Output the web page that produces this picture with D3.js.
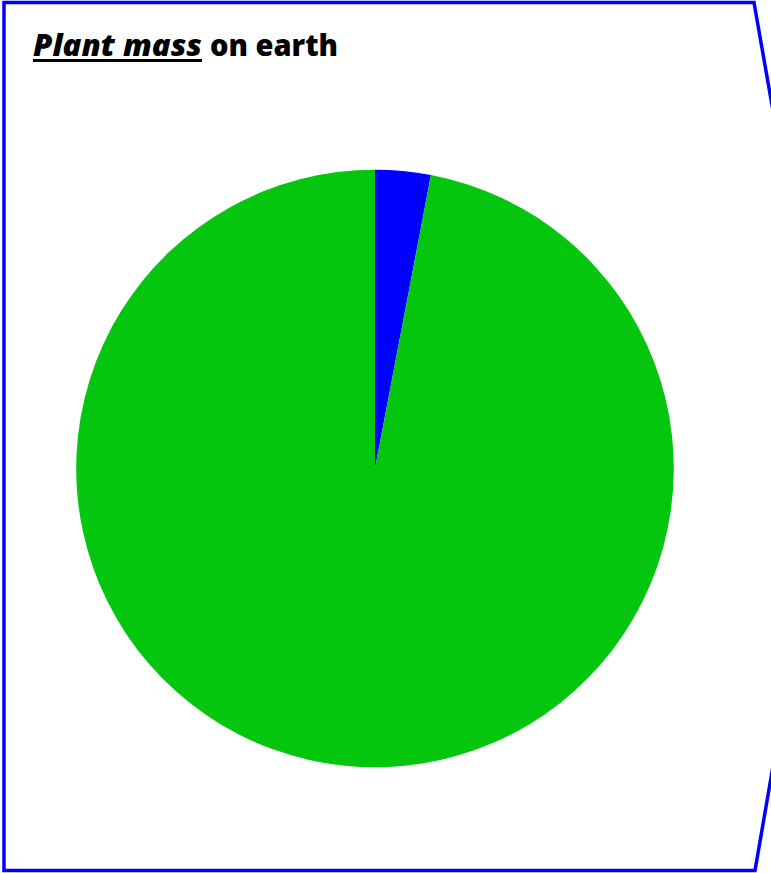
<!DOCTYPE html>
<html>
<head>
<meta charset="utf-8">
<script src="https://cdn.jsdelivr.net/npm/d3@7/dist/d3.min.js"></script>
<style>
  html, body { margin: 0; padding: 0; background: #fff; }
  svg { display: block; }
</style>
</head>
<body>
<svg id="chart" width="771" height="873"></svg>
<script>
// Share of plant mass (percent)
const categories = ["Marine plants", "Land plants"];
const values = [3, 97];
const colors = ["#0000FF", "#05C60E"];

const svg = d3.select("#chart");

// Frame: a panel whose right side points off to the right
const frame = [[4, 2.5], [754, 2.5], [830, 436], [755, 870.5], [4, 870.5]];
svg.append("path")
  .attr("d", d3.line()(frame) + "Z")
  .attr("fill", "#fff")
  .attr("stroke", "#0000FF")
  .attr("stroke-width", 3.5)
  .attr("stroke-linejoin", "miter");

// Title
const titleFont = "'Open Sans', Lato, sans-serif";
svg.append("text")
  .attr("x", 33)
  .attr("y", 56)
  .attr("font-family", titleFont)
  .attr("font-weight", 800)
  .attr("font-style", "italic")
  .attr("font-size", 30.5)
  .attr("textLength", 169)
  .attr("lengthAdjust", "spacingAndGlyphs")
  .attr("fill", "#000")
  .text("Plant mass");
svg.append("rect")
  .attr("x", 33).attr("y", 59)
  .attr("width", 169).attr("height", 3)
  .attr("fill", "#000");
svg.append("text")
  .attr("x", 210)
  .attr("y", 56)
  .attr("font-family", titleFont)
  .attr("font-weight", 800)
  .attr("font-size", 30.5)
  .attr("textLength", 128)
  .attr("lengthAdjust", "spacingAndGlyphs")
  .attr("fill", "#000")
  .text("on earth");

// Pie
const cx = 375, cy = 468.5, r = 298.8;
const pie = d3.pie().sort(null).value(d => d.value);
const arc = d3.arc().innerRadius(0).outerRadius(r);
const data = categories.map((c, i) => ({ name: c, value: values[i], color: colors[i] }));

svg.append("g")
  .attr("transform", `translate(${cx},${cy})`)
  .selectAll("path")
  .data(pie(data))
  .join("path")
  .attr("d", arc)
  .attr("fill", d => d.data.color);
</script>
</body>
</html>
